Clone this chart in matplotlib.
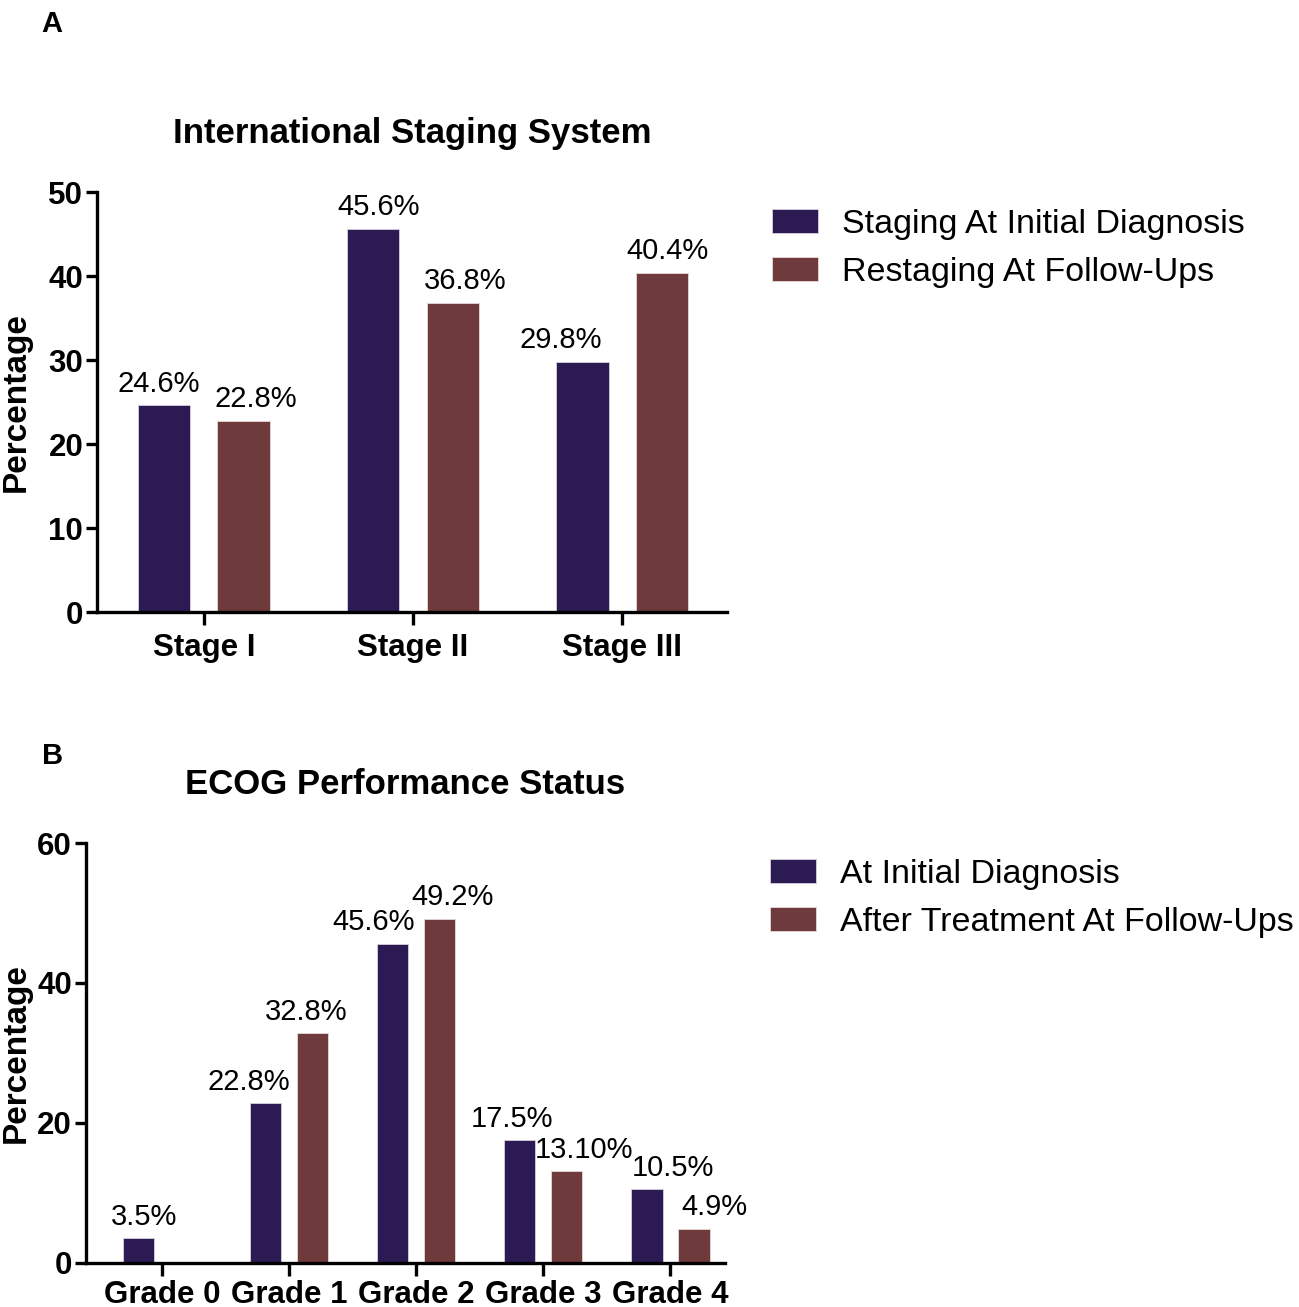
import numpy as np
import matplotlib
matplotlib.use("Agg")
import matplotlib.pyplot as plt

plt.rcParams['font.family'] = ['Liberation Sans', 'DejaVu Sans']

# Panel A data
stages = ['Stage I', 'Stage II', 'Stage III']
iss_initial = [24.6, 45.6, 29.8]
iss_follow = [22.8, 36.8, 40.4]
iss_labels_initial = ['24.6%', '45.6%', '29.8%']
iss_labels_follow = ['22.8%', '36.8%', '40.4%']

# Panel B data
grades = ['Grade 0', 'Grade 1', 'Grade 2', 'Grade 3', 'Grade 4']
ecog_initial = [3.5, 22.8, 45.6, 17.5, 10.5]
ecog_follow = [0, 32.8, 49.2, 13.1, 4.9]
ecog_labels_initial = ['3.5%', '22.8%', '45.6%', '17.5%', '10.5%']
ecog_labels_follow = ['', '32.8%', '49.2%', '13.10%', '4.9%']

# horizontal nudges of the value labels (points), as placed in the original
iss_shift_initial = [-4, 4, -16]
iss_shift_follow = [9, 9, 4]
ecog_shift_initial = [4, -12, -14, -6, 19]
ecog_shift_follow = [0, -5, 9, 12, 15]

c_blue = '#2c1a52'
c_red = '#6e3a3b'

fig = plt.figure(figsize=(12.99, 13.07), dpi=100)


def panel(ax, cats, v1, v2, l1, l2, s1, s2, names, title, ymax, ystep, xlim, off, w,
          ylab_x, leg_pos, xpad):
    x = np.arange(len(cats))
    b1 = ax.bar(x - off, v1, w, color=c_blue, edgecolor='#d8d0e0', linewidth=0.6, label=names[0])
    b2 = ax.bar(x + off, v2, w, color=c_red, edgecolor='#e8d8d8', linewidth=0.6, label=names[1])
    for xi, v, t, s in zip(x - off, v1, l1, s1):
        ax.annotate(t, (xi, v), xytext=(s, 5.5), textcoords='offset points',
                    ha='center', va='bottom', fontsize=21)
    for xi, v, t, s in zip(x + off, v2, l2, s2):
        ax.annotate(t, (xi, v), xytext=(s, 5.5), textcoords='offset points',
                    ha='center', va='bottom', fontsize=21)
    ax.set_xlim(*xlim)
    ax.set_ylim(0, ymax)
    ax.set_yticks(np.arange(0, ymax + 1, ystep))
    ax.set_xticks(x)
    ax.set_xticklabels(cats, fontsize=22.5, fontweight='bold')
    for t in ax.get_yticklabels():
        t.set_fontsize(22.5)
        t.set_fontweight('bold')
    for s in ['top', 'right']:
        ax.spines[s].set_visible(False)
    for s in ['left', 'bottom']:
        ax.spines[s].set_linewidth(2.4)
    ax.tick_params(axis='y', width=2.4, length=8, pad=2)
    ax.tick_params(axis='x', width=2.4, length=9, pad=xpad)
    ax.set_ylabel('Percentage', fontsize=24, fontweight='bold')
    ax.yaxis.set_label_coords(ylab_x, 0.5)
    ax.text(0.5, 1.14, title, transform=ax.transAxes, ha='center', va='center',
            fontsize=25, fontweight='bold')
    fig.legend(handles=[b1, b2], loc='upper left', bbox_to_anchor=leg_pos, frameon=False,
               fontsize=24.5, borderpad=0, borderaxespad=0, handlelength=1.35,
               handleheight=0.7, handletextpad=0.72, labelspacing=0.5)


ax1 = fig.add_axes([0.0747, 0.5317, 0.485, 0.3213])
panel(ax1, stages, iss_initial, iss_follow, iss_labels_initial, iss_labels_follow,
      iss_shift_initial, iss_shift_follow,
      ['Staging At Initial Diagnosis', 'Restaging At Follow-Ups'],
      'International Staging System', 50, 10, (-0.51, 2.5), 0.19, 0.25,
      -0.103, (0.594, 0.840), 6)

ax2 = fig.add_axes([0.0662, 0.0337, 0.492, 0.3213])
panel(ax2, grades, ecog_initial, ecog_follow, ecog_labels_initial, ecog_labels_follow,
      ecog_shift_initial, ecog_shift_follow,
      ['At Initial Diagnosis', 'After Treatment At Follow-Ups'],
      'ECOG Performance Status', 60, 20, (-0.6, 4.43), 0.185, 0.245,
      -0.085, (0.5928, 0.3428), 3)

fig.text(0.032, 0.992, 'A', fontsize=21, fontweight='bold', va='top')
fig.text(0.032, 0.432, 'B', fontsize=21, fontweight='bold', va='top')

fig.savefig('out.png', dpi=100)
